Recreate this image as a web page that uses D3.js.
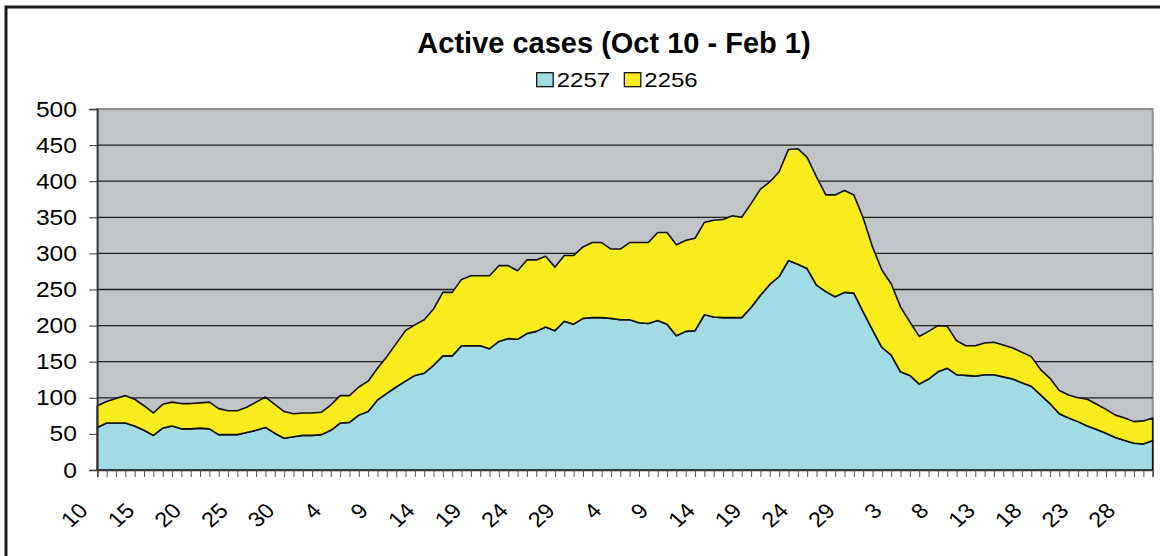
<!DOCTYPE html>
<html>
<head>
<meta charset="utf-8">
<script src="https://cdn.jsdelivr.net/npm/d3@7"></script>
<style>
  body { margin: 0; background: #fff; }
  svg { display: block; }
  text { font-family: "Liberation Sans", Arial, sans-serif; fill: #000; }
</style>
</head>
<body>
<div id="chart"></div>
<script>
// one point per day, Oct 10 -> Feb 1
const days = d3.timeDay.range(new Date(2020, 9, 10, 12), new Date(2021, 1, 1, 13));
const tickLabels = ["10", "15", "20", "25", "30", "4", "9", "14", "19", "24", "29",
                    "4", "9", "14", "19", "24", "29", "3", "8", "13", "18", "23", "28"];
const yTicks = [0, 50, 100, 150, 200, 250, 300, 350, 400, 450, 500];
const seriesNames = ["2257", "2256"];

const cases2257 = [
  59, 65, 65, 65, 61, 55, 48, 58, 61, 57, 57, 58, 57, 49, 49, 49, 52, 55, 59, 51,
  44, 46, 48, 48, 49, 55, 65, 66, 76, 81, 97, 106, 115, 123, 131, 134, 145, 158, 158, 172,
  172, 172, 168, 178, 182, 181, 189, 192, 198, 193, 206, 202, 210, 211, 211, 210, 208, 208, 204, 203,
  207, 202, 186, 192, 193, 215, 212, 211, 211, 211, 225, 242, 257, 268, 290, 285, 279, 256, 247, 240,
  246, 245, 219, 194, 170, 159, 136, 131, 119, 126, 136, 141, 132, 131, 130, 132, 132, 129, 126, 121,
  116, 104, 92, 78, 72, 67, 61, 56, 51, 45, 41, 37, 36, 41, 39
];
const cases2256 = [
  30, 30, 34, 38, 37, 34, 31, 33, 33, 35, 35, 35, 37, 36, 33, 33, 35, 39, 42, 40,
  37, 32, 31, 31, 31, 35, 38, 37, 39, 42, 44, 51, 60, 70, 70, 74, 78, 88, 88, 92,
  97, 97, 101, 105, 101, 95, 102, 99, 98, 88, 91, 95, 99, 104, 104, 96, 98, 107, 111, 112,
  122, 127, 126, 126, 128, 128, 134, 136, 141, 139, 144, 147, 142, 145, 154, 160, 154, 150, 134, 141,
  141, 136, 130, 115, 107, 99, 90, 74, 66, 66, 64, 58, 47, 41, 42, 44, 45, 44, 43, 42,
  41, 35, 35, 32, 32, 33, 37, 35, 33, 31, 31, 30, 32, 31, 32
];

const W = 1160, H = 556;
const plot = { left: 97.3, right: 1152.7, top: 109, bottom: 470 };
const colors = { "2257": "#a1dbe4", "2256": "#f8ec1c" };

const svg = d3.select("#chart").append("svg")
  .attr("width", W).attr("height", H);

// chart frame (cropped at right/bottom like the reference)
svg.append("rect")
  .attr("x", 6).attr("y", 7).attr("width", 1400).attr("height", 800)
  .attr("fill", "#fff").attr("stroke", "#1a1a1a").attr("stroke-width", 3);

const x = d3.scaleLinear().domain([0, days.length - 1]).range([plot.left, plot.right]);
const y = d3.scaleLinear().domain([0, 500]).range([plot.bottom, plot.top]);

const rows = days.map((d, i) => ({ day: d, "2257": cases2257[i], "2256": cases2256[i] }));
const stacked = d3.stack().keys(seriesNames)(rows);

// plot background
svg.append("rect")
  .attr("x", plot.left).attr("y", plot.top)
  .attr("width", plot.right - plot.left).attr("height", plot.bottom - plot.top)
  .attr("fill", "#c1c4c7").attr("stroke", "#8e9093").attr("stroke-width", 2);

// gridlines
svg.append("g")
  .selectAll("line")
  .data(yTicks.filter(v => v > 0 && v < 500))
  .join("line")
  .attr("x1", plot.left).attr("x2", plot.right)
  .attr("y1", d => y(d)).attr("y2", d => y(d))
  .attr("stroke", "#1e1e1e").attr("stroke-width", 1.3);

// stacked areas
const area = d3.area()
  .x((d, i) => x(i))
  .y0(d => y(d[0]))
  .y1(d => y(d[1]));

svg.append("g")
  .selectAll("path")
  .data(stacked)
  .join("path")
  .attr("d", area)
  .attr("fill", d => colors[d.key])
  .attr("stroke", "#111")
  .attr("stroke-width", 1.6)
  .attr("stroke-linejoin", "round");

// y axis
const yAxis = svg.append("g")
  .attr("transform", `translate(${plot.left},0)`)
  .call(d3.axisLeft(y).tickValues(yTicks).tickSize(8).tickPadding(0).tickFormat(d => ""));
yAxis.select(".domain").attr("stroke", "#333").attr("stroke-width", 1.5);
yAxis.selectAll(".tick line").attr("stroke", "#333");

svg.append("g")
  .selectAll("text")
  .data(yTicks)
  .join("text")
  .attr("transform", d => `translate(77,${y(d) + 7.5}) scale(1.12,1)`)
  .attr("text-anchor", "end")
  .attr("font-size", 22)
  .text(d => d);

// x axis: a small tick for every day
const xAxis = svg.append("g")
  .attr("transform", `translate(0,${plot.bottom})`)
  .call(d3.axisBottom(x).tickValues(d3.range(days.length)).tickSize(7).tickFormat(""));
xAxis.select(".domain").attr("stroke", "#333").attr("stroke-width", 1.5);
xAxis.selectAll(".tick line").attr("stroke", "#555");

// rotated day labels every 5 days
svg.append("g")
  .selectAll("text")
  .data(tickLabels)
  .join("text")
  .attr("transform", (d, k) => `translate(${x(k * 5) - 8},${plot.bottom + 42}) scale(1.12,1) rotate(-45)`)
  .attr("text-anchor", "end")
  .attr("font-size", 21)
  .text(d => d);

// title
svg.append("text")
  .attr("x", 614).attr("y", 53)
  .attr("text-anchor", "middle")
  .attr("font-size", 29).attr("font-weight", "bold")
  .text("Active cases (Oct 10 - Feb 1)");

// legend
const legend = svg.append("g");
const legendX = [536.7, 624.3];
seriesNames.forEach((name, i) => {
  legend.append("rect")
    .attr("x", legendX[i]).attr("y", 72.7).attr("width", 16.5).attr("height", 14)
    .attr("fill", colors[name]).attr("stroke", "#000").attr("stroke-width", 1.2);
  legend.append("text")
    .attr("transform", `translate(${legendX[i] + 20},86.5) scale(1.2,1)`)
    .attr("font-size", 20)
    .text(name);
});
</script>
</body>
</html>
